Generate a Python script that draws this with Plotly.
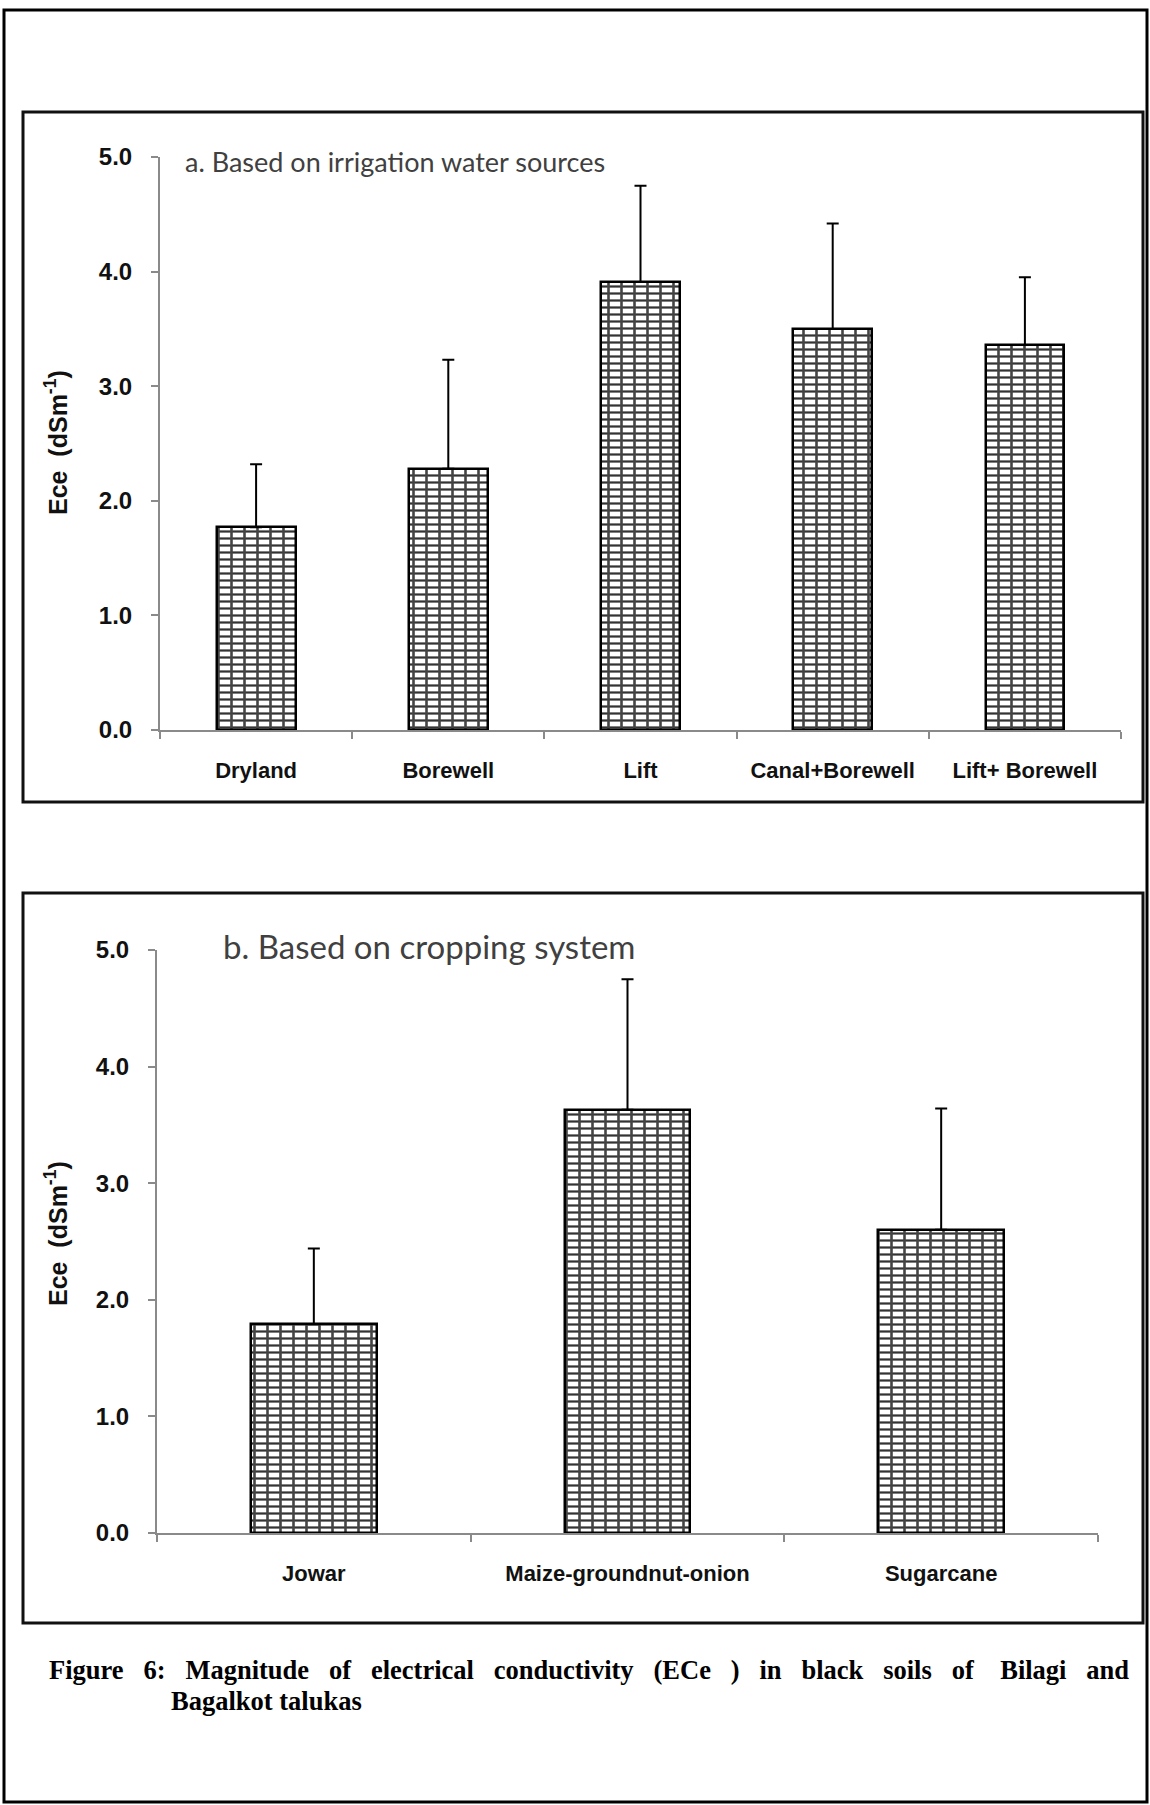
import plotly.graph_objects as go

W, H = 1150, 1805

# ---- data ----
cats_a = ["Dryland", "Borewell", "Lift", "Canal+Borewell", "Lift+ Borewell"]
ece_a = [1.77, 2.28, 3.91, 3.50, 3.36]
err_a = [0.55, 0.95, 0.84, 0.92, 0.59]

cats_b = ["Jowar", "Maize-groundnut-onion", "Sugarcane"]
ece_b = [1.79, 3.63, 2.60]
err_b = [0.65, 1.12, 1.04]

y_ticks = [0, 1, 2, 3, 4, 5]


def fx(x):
    return x / W


def fy(y):
    return 1 - y / H


fig = go.Figure()


def add_panel(cats, vals, errs, width, xa, ya):
    # horizontal brick courses
    fig.add_trace(go.Bar(
        x=cats, y=vals, width=width,
        marker=dict(color="white", line=dict(color="black", width=2),
                    pattern=dict(shape="-", fgcolor="#333333", bgcolor="white",
                                 size=7, solidity=0.32)),
        xaxis=xa, yaxis=ya, showlegend=False, hoverinfo="skip",
    ))
    # vertical brick joints + outline + error bars
    fig.add_trace(go.Bar(
        x=cats, y=vals, width=width,
        marker=dict(color="rgba(0,0,0,0)", line=dict(color="black", width=2.5),
                    pattern=dict(shape="|", fgcolor="#444444", bgcolor="rgba(0,0,0,0)",
                                 size=13, solidity=0.2)),
        error_y=dict(type="data", symmetric=False, array=errs, arrayminus=[0] * len(errs),
                     color="black", thickness=2, width=6),
        xaxis=xa, yaxis=ya, showlegend=False,
    ))


add_panel(cats_a, ece_a, err_a, 0.41, "x", "y")
add_panel(cats_b, ece_b, err_b, 0.40, "x2", "y2")

axis_col = "#8a8a8a"
xtickfont = dict(family="Liberation Sans, Arial", size=22, color="#111", weight="bold")
ytickfont = dict(family="Liberation Sans, Arial", size=24, color="#111", weight="bold")

xcommon = dict(type="category", showline=True, linecolor=axis_col, linewidth=2,
               ticks="outside", tickson="boundaries", ticklen=7, tickcolor=axis_col,
               tickwidth=1.5, tickfont=xtickfont, showgrid=False, zeroline=False,
               ticklabelstandoff=20, automargin=False)
ycommon = dict(range=[0, 5], tickvals=y_ticks, tickformat=".1f", showline=True,
               linecolor=axis_col, linewidth=2, ticks="outside", ticklen=7,
               tickcolor=axis_col, tickwidth=1.5, tickfont=ytickfont, showgrid=False,
               zeroline=False, ticklabelstandoff=14, automargin=False)

fig.update_layout(
    template="none", autosize=False,
    width=W, height=H, margin=dict(l=0, r=0, t=0, b=0, pad=0),
    paper_bgcolor="white", plot_bgcolor="white", bargap=0, barmode="overlay",
    xaxis=dict(domain=[fx(160), fx(1121)], anchor="y", **xcommon),
    yaxis=dict(domain=[fy(730), fy(157)], anchor="x", **ycommon),
    xaxis2=dict(domain=[fx(157), fx(1098)], anchor="y2", **xcommon),
    yaxis2=dict(domain=[fy(1533), fy(950)], anchor="x2", **ycommon),
)

shapes = []
# outer border
shapes.append(dict(type="rect", xref="paper", yref="paper", x0=fx(4), x1=fx(1147),
                   y0=fy(1802), y1=fy(10), line=dict(color="black", width=3)))
# panel boxes
for top, bot in [(112, 802), (893, 1623)]:
    shapes.append(dict(type="rect", xref="paper", yref="paper", x0=fx(23), x1=fx(1143),
                       y0=fy(bot), y1=fy(top), line=dict(color="#111", width=3)))
fig.update_layout(shapes=shapes)

ann = []
ann.append(dict(text="a. Based on irrigation water sources", x=fx(183), y=fy(162),
                xref="paper", yref="paper", xanchor="left", yanchor="middle", showarrow=False,
                font=dict(family="Lato, Open Sans", size=27, color="#404040")))
ann.append(dict(text="b. Based on cropping system", x=fx(221), y=fy(946),
                xref="paper", yref="paper", xanchor="left", yanchor="middle", showarrow=False,
                font=dict(family="Lato, Open Sans", size=33, color="#404040")))
for yc in [443, 1234]:
    ann.append(dict(text="Ece  (dSm<sup>-1</sup>)", x=fx(56), y=fy(yc), xref="paper",
                    yref="paper", xanchor="center", yanchor="middle", showarrow=False,
                    textangle=-90,
                    font=dict(family="Liberation Sans, Arial", size=25, color="#111",
                              weight="bold")))

sp = " &nbsp;&nbsp;"
cap1_words = ["Figure", "6:", "Magnitude", "of", "electrical", "conductivity", "(ECe", ")",
              "in", "black", "soils", "of&nbsp;", "Bilagi", "and"]
cap1 = sp.join(cap1_words)
ann.append(dict(text=cap1, x=fx(47), y=fy(1670), xref="paper", yref="paper", xanchor="left",
                yanchor="middle", showarrow=False,
                font=dict(family="Liberation Serif, Times New Roman", size=26.5, color="black",
                          weight="bold")))
ann.append(dict(text="Bagalkot talukas", x=fx(169), y=fy(1701), xref="paper", yref="paper",
                xanchor="left", yanchor="middle", showarrow=False,
                font=dict(family="Liberation Serif, Times New Roman", size=26.5, color="black",
                          weight="bold")))
fig.update_layout(annotations=ann)

fig.write_html("out.html", config={"displayModeBar": False},
               post_script="document.body.style.margin='0';document.body.style.overflow='hidden';")
